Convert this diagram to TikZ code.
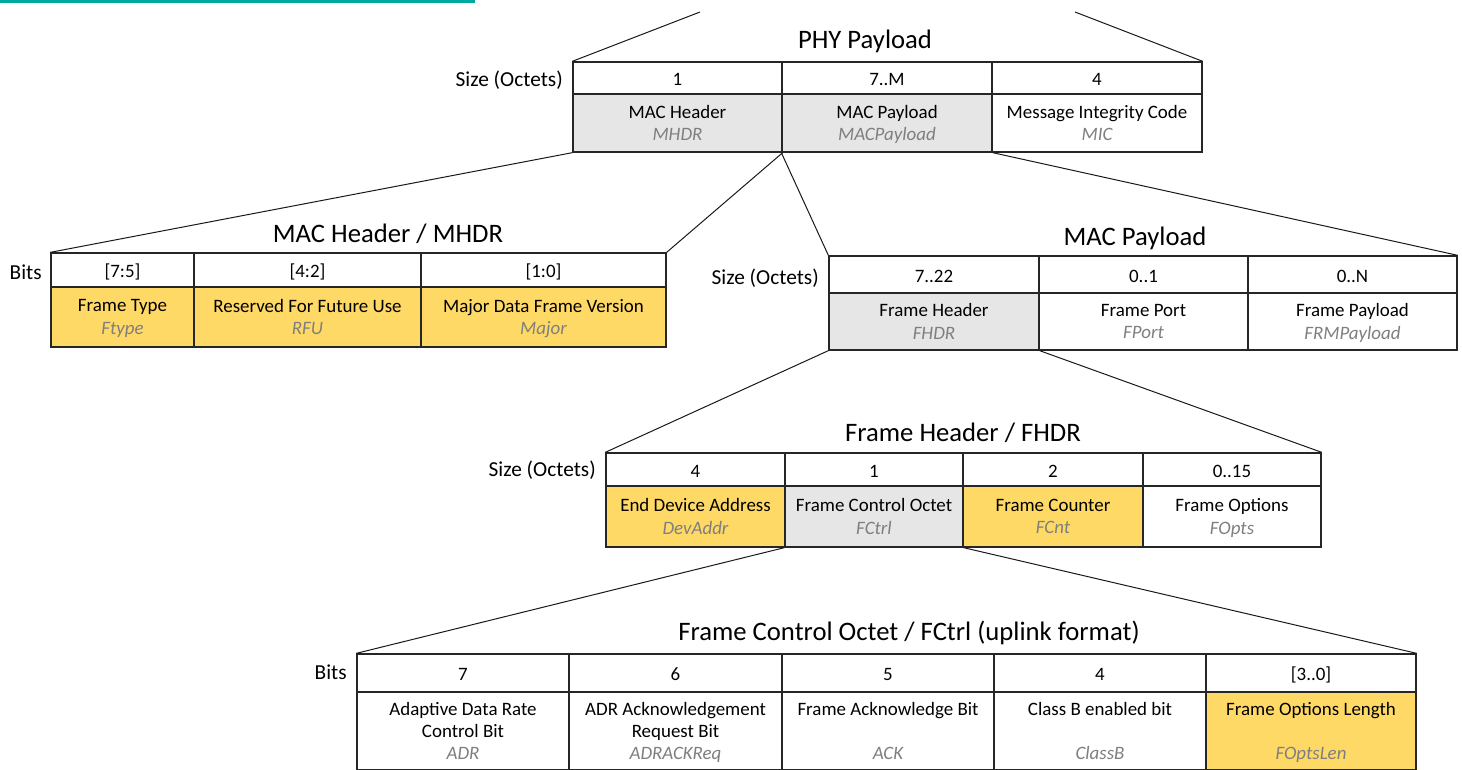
\documentclass[tikz,border=0pt]{standalone}
\usepackage{fontspec}
\setmainfont{Carlito}
\usetikzlibrary{fit}
\definecolor{tealbar}{HTML}{00A99D}
\definecolor{cellgrey}{HTML}{E7E6E6}
\definecolor{cellgold}{HTML}{FFD966}
\definecolor{abgrey}{HTML}{7F7F7F}
\definecolor{cellline}{HTML}{262626}
\newcommand{\ab}[1]{{\itshape\color{abgrey}#1}}
\tikzset{
  cell/.style={draw=cellline, line width=1pt, inner sep=0pt},
  hdr/.style={cell, fill=white},
  grey/.style={cell, fill=cellgrey},
  gold/.style={cell, fill=cellgold},
  wcell/.style={cell, fill=white},
  txt/.style={align=center, inner sep=0pt, anchor=center, yshift=-2.4pt,
    font=\fontsize{14.2}{16.8}\selectfont,
    execute at begin node=\strut, execute at end node=\strut},
  title/.style={font=\fontsize{20}{24}\selectfont, inner sep=0pt},
  rowlab/.style={font=\fontsize{16}{19}\selectfont, anchor=east, inner sep=0pt},
  conn/.style={line width=0.75pt, draw=black!90},
}
% \cellbox{style}{name}{x1}{y1}{x2}{y2}{text}
\newcommand{\cellbox}[7]{%
  \node[#1, fit={(#3,#4) (#5,#6)}] (#2) {};
  \node[txt] (#2t) at (#2.center) {#7};
}
\begin{document}
\begin{tikzpicture}[x=0.75pt, y=-0.75pt]
\path[use as bounding box] (0,0) rectangle (1462,770);
\clip (0,0) rectangle (1462,770);
\fill[tealbar] (0,0) rectangle (475,3.5);

% ---------- PHY Payload ----------
\node[title] (tphy) at (865,41) {PHY Payload};
\node[rowlab] (lphy) at (563,80) {Size (Octets)};
\cellbox{hdr}{p1h}{573}{62}{782}{94}{1}
\cellbox{hdr}{p2h}{782}{62}{992}{94}{7..M}
\cellbox{hdr}{p3h}{992}{62}{1202}{94}{4}
\cellbox{grey}{p1}{573}{94}{782}{152}{MAC Header\\\ab{MHDR}}
\cellbox{grey}{p2}{782}{94}{992}{152}{MAC Payload\\\ab{MACPayload}}
\cellbox{wcell}{p3}{992}{94}{1202}{152}{Message Integrity Code\\\ab{MIC}}
\coordinate (topL) at (700,12);
\coordinate (topR) at (1075,12);
\draw[conn] (topL) -- (p1h.north west);
\draw[conn] (topR) -- (p3h.north east);

% ---------- MAC Header ----------
\node[title] (tmh) at (388,234) {MAC Header / MHDR};
\node[rowlab] (lmh) at (42,272) {Bits};
\cellbox{hdr}{m1h}{51}{253}{194}{287}{[7:5]}
\cellbox{hdr}{m2h}{194}{253}{421}{287}{[4:2]}
\cellbox{hdr}{m3h}{421}{253}{666}{287}{[1:0]}
\cellbox{gold}{m1}{51}{287}{194}{347}{Frame Type\\\ab{Ftype}}
\cellbox{gold}{m2}{194}{287}{421}{347}{Reserved For Future Use\\\ab{RFU}}
\cellbox{gold}{m3}{421}{287}{666}{347}{Major Data Frame Version\\\ab{Major}}
\draw[conn] (p1.south west) -- (m1h.north west);
\draw[conn] (p1.south east) -- (m3h.north east);

% ---------- MAC Payload ----------
\node[title] (tmp) at (1135,238) {MAC Payload};
\node[rowlab] (lmp) at (819,278) {Size (Octets)};
\cellbox{hdr}{q1h}{829}{256}{1039}{293}{7..22}
\cellbox{hdr}{q2h}{1039}{256}{1248}{293}{0..1}
\cellbox{hdr}{q3h}{1248}{256}{1457}{293}{0..N}
\cellbox{grey}{q1}{829}{293}{1039}{350}{Frame Header\\\ab{FHDR}}
\cellbox{wcell}{q2}{1039}{293}{1248}{350}{Frame Port\\\ab{FPort}}
\cellbox{wcell}{q3}{1248}{293}{1457}{350}{Frame Payload\\\ab{FRMPayload}}
\draw[conn] (p2.south west) -- (q1h.north west);
\draw[conn] (p2.south east) -- (q3h.north east);

% ---------- Frame Header ----------
\node[title] (tfh) at (963,433) {Frame Header / FHDR};
\node[rowlab] (lfh) at (596,470) {Size (Octets)};
\cellbox{hdr}{f1h}{606}{453}{785}{486}{4}
\cellbox{hdr}{f2h}{785}{453}{963}{486}{1}
\cellbox{hdr}{f3h}{963}{453}{1143}{486}{2}
\cellbox{hdr}{f4h}{1143}{453}{1321}{486}{0..15}
\cellbox{gold}{f1}{606}{486}{785}{547}{End Device Address\\\ab{DevAddr}}
\cellbox{grey}{f2}{785}{486}{963}{547}{Frame Control Octet\\\ab{FCtrl}}
\cellbox{gold}{f3}{963}{486}{1143}{547}{Frame Counter\\\ab{FCnt}}
\cellbox{wcell}{f4}{1143}{486}{1321}{547}{Frame Options\\\ab{FOpts}}
\draw[conn] (q1.south west) -- (f1h.north west);
\draw[conn] (q1.south east) -- (f4h.north east);

% ---------- Frame Control Octet ----------
\node[title] (tfc) at (909,633) {Frame Control Octet / FCtrl (uplink format)};
\node[rowlab] (lfc) at (347,672) {Bits};
\cellbox{hdr}{c1h}{357}{654}{569}{692}{7}
\cellbox{hdr}{c2h}{569}{654}{782}{692}{6}
\cellbox{hdr}{c3h}{782}{654}{994}{692}{5}
\cellbox{hdr}{c4h}{994}{654}{1206}{692}{4}
\cellbox{hdr}{c5h}{1206}{654}{1416}{692}{[3..0]}
\cellbox{wcell}{c1}{357}{692}{569}{770}{Adaptive Data Rate\\Control Bit\\\ab{ADR}}
\cellbox{wcell}{c2}{569}{692}{782}{770}{ADR Acknowledgement\\Request Bit\\\ab{ADRACKReq}}
\cellbox{wcell}{c3}{782}{692}{994}{770}{Frame Acknowledge Bit\\\strut\\\ab{ACK}}
\cellbox{wcell}{c4}{994}{692}{1206}{770}{Class B enabled bit\\\strut\\\ab{ClassB}}
\cellbox{gold}{c5}{1206}{692}{1416}{770}{Frame Options Length\\\strut\\\ab{FOptsLen}}
\draw[conn] (f2.south west) -- (c1h.north west);
\draw[conn] (f2.south east) -- (c5h.north east);
\end{tikzpicture}
\end{document}
